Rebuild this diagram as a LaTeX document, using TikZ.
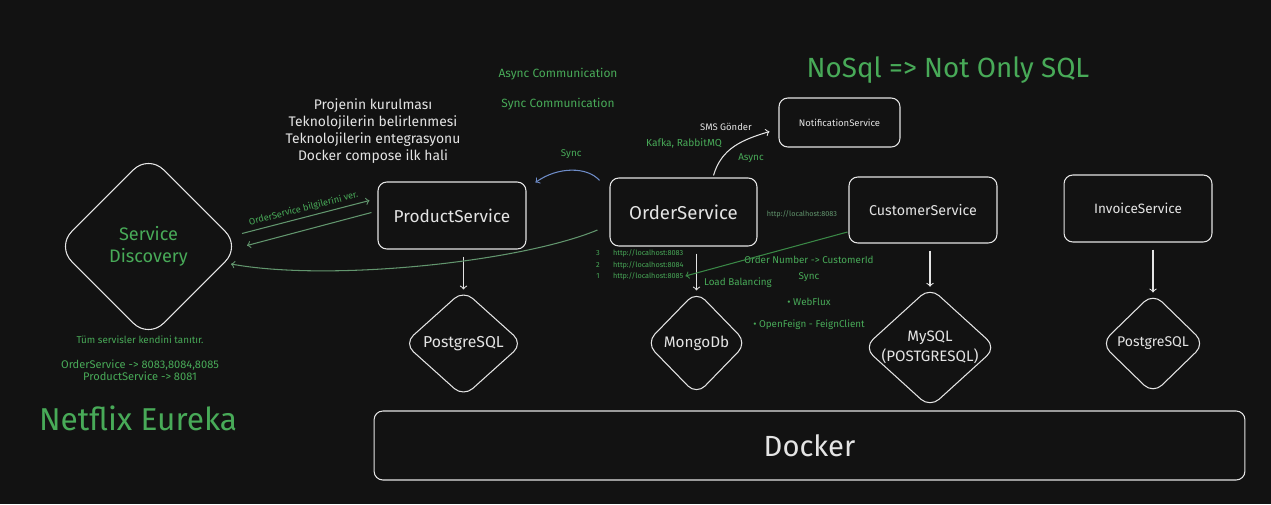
\documentclass[tikz,border=0pt]{standalone}
\usepackage{fontspec}
\setmainfont{Fira Sans}
\usetikzlibrary{shapes.geometric}
\definecolor{bgcol}{RGB}{18,18,18}
\definecolor{fg}{RGB}{228,228,228}
\definecolor{grn}{RGB}{72,170,88}
\definecolor{dimgrn}{RGB}{98,150,110}
\definecolor{syncblue}{RGB}{110,140,200}
\newcommand{\fs}[1]{\fontsize{#1}{#1}\selectfont}

\begin{document}
\begin{tikzpicture}[x=0.02cm,y=-0.02cm,
		box/.style={draw=fg, rounded corners=5pt, line width=0.6pt, text=fg},
		dbnode/.style={draw=fg, diamond, rounded corners=7pt, line width=0.6pt, text=fg, inner sep=0pt, align=center},
		note/.style={text=grn, font=\fs{5.6}},
		link/.style={draw=fg, line width=0.6pt, ->},
		glink/.style={draw=dimgrn, line width=0.6pt, ->}]
			\fill[bgcol] (0,0) rectangle (1271,504);
			% services
			\node[box, minimum width=2.96cm, minimum height=1.34cm, font=\fs{9.8}] (product) at (452,215.5) {ProductService};
			\node[box, minimum width=2.94cm, minimum height=1.36cm, font=\fs{10.6}] (order) at (683.5,212) {OrderService};
			\node[box, minimum width=2.42cm, minimum height=0.98cm, font=\fs{5.4}] (notification) at (839.5,122.5) {NotificationService};
			\node[box, minimum width=2.96cm, minimum height=1.32cm, font=\fs{8.1}] (customer) at (923,210) {CustomerService};
			\node[box, minimum width=2.96cm, minimum height=1.34cm, font=\fs{7.7}] (invoice) at (1138,208.5) {InvoiceService};
			\node[box, minimum width=17.42cm, minimum height=1.38cm, font=\fs{16.6}] (docker) at (809.5,445.5) {Docker};
			% databases
			\node[dbnode, draw=fg!85, text=grn, minimum width=3.68cm, minimum height=3.68cm, font=\fs{10.3}, rounded corners=12pt] (discovery) at (148.5,246.5) {Service\\[2pt]Discovery};
			\node[dbnode, minimum width=2.38cm, minimum height=2.14cm, font=\fs{9}] (pg1) at (463.5,343.5) {PostgreSQL};
			\node[dbnode, minimum width=2.02cm, minimum height=2.08cm, font=\fs{8.7}] (mongo) at (696.5,343) {MongoDb};
			\node[dbnode, aspect=1.1, minimum width=2.64cm, minimum height=2.38cm, font=\fs{8.6}] (mysql) at (930,347.5) {MySQL\\[1pt](POSTGRESQL)};
			\node[dbnode, minimum width=2.08cm, minimum height=2.02cm, font=\fs{8}] (pg2) at (1153,343.5) {PostgreSQL};
			% texts
			\node[text=fg, align=center, font=\fs{7.9}] (plan) at (373,131) {Projenin kurulması\\[1.8pt]Teknolojilerin belirlenmesi\\[1.8pt]Teknolojilerin entegrasyonu\\[1.8pt]Docker compose ilk hali};
			\node[note, font=\fs{6.8}] (async) at (558,74) {Async Communication};
			\node[note, font=\fs{6.8}] (sync) at (558,104) {Sync Communication};
			\node[note, font=\fs{15.8}] (nosql) at (948,70) {NoSql => Not Only SQL};
			\node[note, font=\fs{18}] (eureka) at (138,418) {Netflix Eureka};
			\node[note, font=\fs{5.6}] (intro) at (140,340) {Tüm servisler kendini tanıtır.};
			\node[note, align=center, font=\fs{6.3}] (ports) at (140,370) {OrderService -> 8083,8084,8085\\[0.5pt]ProductService -> 8081};
			% load balanced instances
			\foreach \n/\p/\yy in {3/8083/253, 2/8084/265, 1/8085/276} {
				\node[note, font=\fs{4.2}] (num\n) at (598,\yy) {\n};
				\node[note, font=\fs{4.15}, anchor=west, inner sep=1pt] (lh\n) at (611,\yy) {http://localhost:\p};
			}
			\node[note, text=dimgrn, font=\fs{4.15}] (lhcust) at (802,214) {http://localhost:8083};
			\node[note] (ordnum) at (809,260) {Order Number -> CustomerId};
			\node[note] (syncb) at (809,277) {Sync};
			\node[note] (lb) at (738,283) {Load Balancing};
			\node[note] (webflux) at (809,302) {• WebFlux};
			\node[note] (feign) at (809,325) {• OpenFeign - FeignClient};
			% connectors
			\draw[link, shorten <=4pt] (product.south -| pg1.north) -- (pg1.north);
			\draw[link, shorten <=4pt] (order.south -| mongo.north) -- (mongo.north);
			\draw[link, shorten <=4pt] (customer.south -| mysql.north) -- (mysql.north);
			\draw[link, shorten <=4pt] (invoice.south -| pg2.north) -- (pg2.north);
			\draw[draw=syncblue, line width=0.6pt, ->] ([shift={(-10,3)}]order.north west) .. controls +(-12,-14) and +(22,-16) .. ([shift={(9,1)}]product.north east)
				node[pos=0.5, above=3pt, note] (synclbl) {Sync};
			\draw[link] ([shift={(30,-2)}]order.north) .. controls +(8,-28) and +(-26,8) .. ([shift={(-9,9)}]notification.west);
			\node[text=fg, font=\fs{5.4}] (sms) at (726,127) {SMS Gönder};
			\node[note, font=\fs{5.8}] (kafka) at (684,143) {Kafka, RabbitMQ};
			\node[note] (asynclbl) at (751,158) {Async};
			\draw[glink] ([shift={(1,-13)}]discovery.east) -- node[sloped, above, note, font=\fs{5.2}, inner sep=2pt] {OrderService bilgilerini ver.} ([shift={(-8,-15)}]product.west);
			\draw[glink] ([shift={(-6,-3)}]product.west) -- ([shift={(6,-1)}]discovery.east);
			\draw[glink] ([shift={(-12,18)}]order.west) .. controls (520,262) and (330,282) .. ([shift={(-10,17.5)}]discovery.east);
			\draw[draw=grn!80!black, line width=0.6pt, ->] ([shift={(-1,22)}]customer.west) -- (lh1.east);
		\end{tikzpicture}
\end{document}
